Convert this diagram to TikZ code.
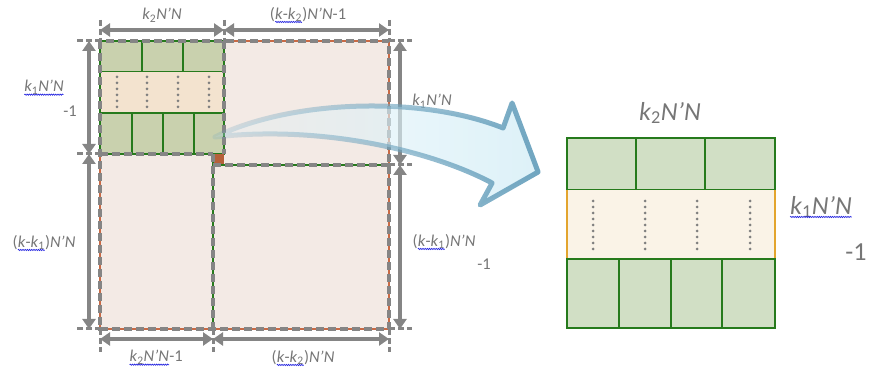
\documentclass[tikz,border=0pt]{standalone}
\usepackage{fontspec}
\setmainfont{Carlito}
\usetikzlibrary{arrows.meta,fadings,decorations.pathmorphing}

\definecolor{pinkfill}{HTML}{F3EAE5}
\definecolor{cellL}{HTML}{C9D1AE}
\definecolor{cellR}{HTML}{D1DFC5}
\definecolor{greenline}{HTML}{267A1C}
\definecolor{tanL}{HTML}{F3E3CF}
\definecolor{tanR}{HTML}{FAF3E7}
\definecolor{orangeside}{HTML}{E3A52E}
\definecolor{redline}{HTML}{C86A45}
\definecolor{brownsq}{HTML}{B5603A}
\definecolor{gridgray}{HTML}{858585}
\definecolor{labelgray}{HTML}{767676}
\definecolor{dotgray}{HTML}{7F7F7F}
\definecolor{arrowline}{HTML}{6FA5C0}
\definecolor{arrowfill}{HTML}{DDF1F8}
\definecolor{spellblue}{HTML}{2A2AE0}

% blue wavy underline (spell-check style)
\newcommand\spellwave[1]{\tikz[baseline=(w.base),x=1cm,y=1cm]{%
  \node[inner sep=0pt,outer sep=0pt,text=labelgray] (w) {#1};
  \draw[spellblue,line width=0.7pt,decorate,
        decoration={snake,amplitude=0.6pt,segment length=2.2pt}]
    ([yshift=-2.8pt]w.base west) -- ([yshift=-2.8pt]w.base east);}}

\tikzfading[name=arrowfade, left color=transparent!80, right color=transparent!0]

\tikzset{
  lbl/.style={text=labelgray, font=\fontsize{16.5}{18}\selectfont, inner sep=0pt},
  biglbl/.style={text=labelgray, font=\fontsize{26}{28}\selectfont, inner sep=0pt},
  dimline/.style={draw=gridgray, line width=3.2pt,
    {Triangle[length=10pt,width=13pt]}-{Triangle[length=10pt,width=13pt]}},
  dimtick/.style={draw=gridgray, line width=3pt, dash pattern=on 6pt off 3pt},
  gridedge/.style={draw=gridgray, line width=3.6pt, dash pattern=on 8pt off 4pt},
  greenedge/.style={draw=greenline, line width=1.6pt},
  cellLeft/.style={draw=greenline, fill=cellL, line width=1.6pt},
  cellRight/.style={draw=greenline, fill=cellR, line width=2.3pt},
  dotcol/.style={draw=dotgray, line width=3pt, line cap=round, dash pattern=on 0pt off 6pt},
}

\begin{document}
\begin{tikzpicture}[x=1pt,y=-1pt]
\useasboundingbox (0,0) rectangle (871,371);

% ---------- full matrix ----------
\fill[pinkfill] (100,41) rectangle (389,329);
\draw[redline, line width=1.4pt] (100,41) rectangle (389,329);

% top-left sub-block
\draw[cellLeft] (100,41) rectangle (142,72);
\draw[cellLeft] (142,41) rectangle (183,72);
\draw[cellLeft] (183,41) rectangle (224,72);
\fill[tanL] (100,72) rectangle (224,113);
\draw[orangeside, line width=1.6pt] (100,72) -- (100,113) (224,72) -- (224,113);
\draw[cellLeft] (100,113) rectangle (132,154);
\draw[cellLeft] (132,113) rectangle (163,154);
\draw[cellLeft] (163,113) rectangle (194,154);
\draw[cellLeft] (194,113) rectangle (224,154);
\foreach \x in {117,147,178,209} \draw[dotcol] (\x,77) -- (\x,110);

% corner element
\fill[brownsq] (213,154) rectangle (224,165);

% partition lines
\draw[greenedge] (100,41) -- (224,41) -- (224,154) (100,41) -- (100,154) -- (213,154)
                 (213,154) -- (213,329) (213,165) -- (389,165);
\draw[gridedge] (100,41) rectangle (389,329);
\draw[gridedge] (224,41) -- (224,154);
\draw[gridedge] (100,154) -- (213,154);
\draw[gridedge] (213,154) -- (213,329);
\draw[gridedge] (213,165) -- (389,165);

% ---------- dimension lines ----------
\coordinate (t0) at (100,30); \coordinate (t1) at (224,30); \coordinate (t2) at (389,30);
\coordinate (l0) at (89,41);  \coordinate (l1) at (89,154); \coordinate (l2) at (89,329);
\coordinate (r0) at (400,41); \coordinate (r1) at (400,165); \coordinate (r2) at (400,329);
\coordinate (b0) at (100,339); \coordinate (b1) at (213,339); \coordinate (b2) at (389,339);

\foreach \x in {100,224,389} \draw[dimtick] (\x,20) -- (\x,41);
\foreach \y in {41,154,329} \draw[dimtick] (77,\y) -- (100,\y);
\foreach \y in {41,165,329} \draw[dimtick] (389,\y) -- (412,\y);
\foreach \x in {100,213,389} \draw[dimtick] (\x,329) -- (\x,352);

\draw[dimline] (t0) -- (t1);
\draw[dimline] (t1) -- (t2);
\draw[dimline] (l0) -- (l1);
\draw[dimline] (l1) -- (l2);
\draw[dimline] (r0) -- (r1);
\draw[dimline] (r1) -- (r2);
\draw[dimline] (b0) -- (b1);
\draw[dimline] (b1) -- (b2);

% ---------- dimension labels ----------
\node[lbl] (top1) at (162,15) {\textit{k}\textsubscript{2}\textit{N’N}};
\node[lbl] (top2) at (308,15) {(\spellwave{\textit{k}-\textit{k}\textsubscript{2}})\textit{N’N}-1};
\node[lbl] (left1) at (44,88) {\spellwave{\textit{k}\textsubscript{1}\textit{N’N}}};
\node[lbl] (left2) at (70,111) {-1};
\node[lbl] (left3) at (44,243) {(\spellwave{\textit{k}-\textit{k}\textsubscript{1}})\textit{N’N}};
\node[lbl] (right1) at (432,101) {\textit{k}\textsubscript{1}\textit{N’N}};
\node[lbl] (right2) at (444,242) {(\spellwave{\textit{k}-\textit{k}\textsubscript{1}})\textit{N’N}};
\node[lbl] (right3) at (484,264) {-1};
\node[lbl] (bot1) at (156,358) {\spellwave{\textit{k}\textsubscript{2}\textit{N’N}}-1};
\node[lbl] (bot2) at (303,358) {(\spellwave{\textit{k}-\textit{k}\textsubscript{2}})\textit{N’N}};

% ---------- curved arrow ----------
\path[fill=arrowfill, draw=arrowline, line width=5pt, line join=round, path fading=arrowfade]
  (215,137) .. controls (290,100) and (420,95) .. (503,128)
  -- (512,103) -- (538,172) -- (480,205) -- (492,183)
  .. controls (430,150) and (320,125) .. (215,137) -- cycle;

% ---------- enlarged sub-block ----------
\draw[cellRight] (567,138) rectangle (636,190);
\draw[cellRight] (636,138) rectangle (705,190);
\draw[cellRight] (705,138) rectangle (775,190);
\fill[tanR] (567,190) rectangle (775,259);
\draw[orangeside, line width=2.3pt] (567,190) -- (567,259) (775,190) -- (775,259);
\draw[cellRight] (567,259) rectangle (619,328);
\draw[cellRight] (619,259) rectangle (671,328);
\draw[cellRight] (671,259) rectangle (722,328);
\draw[cellRight] (722,259) rectangle (775,328);
\foreach \x in {593,645,697,750} \draw[dotcol] (\x,201) -- (\x,250);

\node[biglbl] (btop) at (670,113) {\textit{k}\textsubscript{2}\textit{N’N}};
\node[biglbl] (bright1) at (821,207) {\spellwave{\textit{k}\textsubscript{1}\textit{N’N}}};
\node[biglbl] (bright2) at (856,252) {-1};
\end{tikzpicture}
\end{document}
